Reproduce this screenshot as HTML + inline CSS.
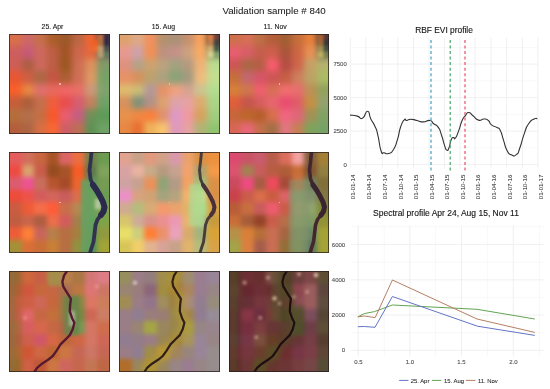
<!DOCTYPE html>
<html><head><meta charset="utf-8">
<style>
html,body{margin:0;padding:0;background:#fff;}
body{width:550px;height:389px;position:relative;overflow:hidden;font-family:"Liberation Sans",Arial,sans-serif;}
.t{position:absolute;white-space:nowrap;color:#1a1a1a;line-height:1;-webkit-text-stroke:0.12px #222;}
.tile{position:absolute;width:100.5px;height:100.5px;overflow:hidden;}
.tile .g{position:absolute;display:grid;}
.tile .g i{display:block;}
.tile .ov{position:absolute;left:0;top:0;}
.tile .dot{position:absolute;left:49.8px;top:49.6px;width:1.6px;height:1.6px;background:#f4c0b8;border-radius:50%;}
.tile .b{position:absolute;left:0;top:0;right:0;bottom:0;border:1px solid rgba(40,30,30,.75);box-sizing:border-box;}
svg.main{position:absolute;left:0;top:0;}
</style></head><body>
<div class="t" style="left:222.4px;top:6.4px;font-size:9.75px;-webkit-text-stroke:0.05px #222;">Validation sample # 840</div>
<div class="t" style="left:41.6px;top:24.1px;font-size:6.85px;">25. Apr</div>
<div class="t" style="left:151.8px;top:24.1px;font-size:6.85px;">15. Aug</div>
<div class="t" style="left:263.6px;top:24.1px;font-size:6.85px;">11. Nov</div>

<div class="tile" style="left:9.3px;top:33.7px"><div class="g" style="left:-12.562px;top:-12.562px;grid-template-columns:repeat(10,12.562px);grid-template-rows:repeat(10,12.562px);filter:blur(3.0px) contrast(1.06) saturate(1.02) brightness(1)"><i style="background:#d2704e"></i><i style="background:#d2704e"></i><i style="background:#c86a6a"></i><i style="background:#c07050"></i><i style="background:#a86030"></i><i style="background:#9a5a30"></i><i style="background:#b86848"></i><i style="background:#e86838"></i><i style="background:#6a4a50"></i><i style="background:#6a4a50"></i><i style="background:#d2704e"></i><i style="background:#d2704e"></i><i style="background:#c86a6a"></i><i style="background:#c07050"></i><i style="background:#a86030"></i><i style="background:#9a5a30"></i><i style="background:#b86848"></i><i style="background:#e86838"></i><i style="background:#6a4a50"></i><i style="background:#6a4a50"></i><i style="background:#c86060"></i><i style="background:#c86060"></i><i style="background:#c05c78"></i><i style="background:#c86a60"></i><i style="background:#b86048"></i><i style="background:#a0582c"></i><i style="background:#c86850"></i><i style="background:#e06a40"></i><i style="background:#787060"></i><i style="background:#787060"></i><i style="background:#c86058"></i><i style="background:#c86058"></i><i style="background:#a86048"></i><i style="background:#c86a60"></i><i style="background:#b86048"></i><i style="background:#9a5a28"></i><i style="background:#c87058"></i><i style="background:#d89060"></i><i style="background:#80986a"></i><i style="background:#80986a"></i><i style="background:#e05a38"></i><i style="background:#e05a38"></i><i style="background:#c86048"></i><i style="background:#a86a48"></i><i style="background:#c05848"></i><i style="background:#a86038"></i><i style="background:#c87058"></i><i style="background:#d89868"></i><i style="background:#78a068"></i><i style="background:#78a068"></i><i style="background:#f06030"></i><i style="background:#f06030"></i><i style="background:#e08848"></i><i style="background:#d87070"></i><i style="background:#e06a60"></i><i style="background:#e86868"></i><i style="background:#e07068"></i><i style="background:#c8987a"></i><i style="background:#80a070"></i><i style="background:#80a070"></i><i style="background:#c06040"></i><i style="background:#c06040"></i><i style="background:#a86040"></i><i style="background:#c07050"></i><i style="background:#e86040"></i><i style="background:#e05050"></i><i style="background:#d06070"></i><i style="background:#c08060"></i><i style="background:#70a068"></i><i style="background:#70a068"></i><i style="background:#b07040"></i><i style="background:#b07040"></i><i style="background:#b07050"></i><i style="background:#c07048"></i><i style="background:#f05a30"></i><i style="background:#e06070"></i><i style="background:#c06080"></i><i style="background:#70905a"></i><i style="background:#60985a"></i><i style="background:#60985a"></i><i style="background:#b06040"></i><i style="background:#b06040"></i><i style="background:#a86848"></i><i style="background:#d07048"></i><i style="background:#f06838"></i><i style="background:#c86068"></i><i style="background:#b87058"></i><i style="background:#609058"></i><i style="background:#70a068"></i><i style="background:#70a068"></i><i style="background:#b06040"></i><i style="background:#b06040"></i><i style="background:#a86848"></i><i style="background:#d07048"></i><i style="background:#f06838"></i><i style="background:#c86068"></i><i style="background:#b87058"></i><i style="background:#609058"></i><i style="background:#70a068"></i><i style="background:#70a068"></i></div><svg class="ov" style="filter:blur(1.6px)" width="100.5" height="100.5" viewBox="0 0 100.5 100.5"><rect x="94.59" y="0.00" width="5.91" height="5.91" fill="#302848"/><rect x="94.59" y="5.91" width="5.91" height="5.91" fill="#2c2844"/><rect x="94.59" y="11.82" width="5.91" height="5.91" fill="#4a5050"/><rect x="94.59" y="17.74" width="5.91" height="5.91" fill="#607860"/><rect x="88.68" y="0.00" width="5.91" height="5.91" fill="#c07040"/><rect x="88.68" y="5.91" width="5.91" height="5.91" fill="#b07040"/><rect x="88.68" y="11.82" width="5.91" height="5.91" fill="#c0a070"/><rect x="88.68" y="17.74" width="5.91" height="5.91" fill="#b8a070"/><rect x="82.76" y="5.91" width="5.91" height="5.91" fill="#f06020"/><rect x="82.76" y="11.82" width="5.91" height="5.91" fill="#f06a30"/></svg><i class="dot"></i><div class="b"></div></div>
<div class="tile" style="left:119.1px;top:33.7px"><div class="g" style="left:-12.562px;top:-12.562px;grid-template-columns:repeat(10,12.562px);grid-template-rows:repeat(10,12.562px);filter:blur(3.0px) contrast(1.06) saturate(1.02) brightness(1)"><i style="background:#d8a070"></i><i style="background:#d8a070"></i><i style="background:#d8a888"></i><i style="background:#e89060"></i><i style="background:#b09070"></i><i style="background:#a89078"></i><i style="background:#c09070"></i><i style="background:#f0a060"></i><i style="background:#604838"></i><i style="background:#604838"></i><i style="background:#d8a070"></i><i style="background:#d8a070"></i><i style="background:#d8a888"></i><i style="background:#e89060"></i><i style="background:#b09070"></i><i style="background:#a89078"></i><i style="background:#c09070"></i><i style="background:#f0a060"></i><i style="background:#604838"></i><i style="background:#604838"></i><i style="background:#e09890"></i><i style="background:#e09890"></i><i style="background:#c8a0a8"></i><i style="background:#e89058"></i><i style="background:#b89080"></i><i style="background:#c09088"></i><i style="background:#c8a080"></i><i style="background:#f0a868"></i><i style="background:#90a070"></i><i style="background:#90a070"></i><i style="background:#d89080"></i><i style="background:#d89080"></i><i style="background:#b0a088"></i><i style="background:#c8a070"></i><i style="background:#b8a080"></i><i style="background:#a0a080"></i><i style="background:#b09880"></i><i style="background:#e8b078"></i><i style="background:#b8d890"></i><i style="background:#b8d890"></i><i style="background:#e09068"></i><i style="background:#e09068"></i><i style="background:#d09060"></i><i style="background:#b8a070"></i><i style="background:#a8a080"></i><i style="background:#8aa078"></i><i style="background:#a09880"></i><i style="background:#e8b880"></i><i style="background:#c0d890"></i><i style="background:#c0d890"></i><i style="background:#d8b870"></i><i style="background:#d8b870"></i><i style="background:#c8b878"></i><i style="background:#b09898"></i><i style="background:#e09068"></i><i style="background:#e8a080"></i><i style="background:#d0a090"></i><i style="background:#c8c090"></i><i style="background:#b0d890"></i><i style="background:#b0d890"></i><i style="background:#d09060"></i><i style="background:#d09060"></i><i style="background:#80907a"></i><i style="background:#b09088"></i><i style="background:#d8a070"></i><i style="background:#d8a0a8"></i><i style="background:#e0a0a0"></i><i style="background:#d8a870"></i><i style="background:#a8d088"></i><i style="background:#a8d088"></i><i style="background:#e09050"></i><i style="background:#e09050"></i><i style="background:#e88848"></i><i style="background:#f08040"></i><i style="background:#d89070"></i><i style="background:#d898c0"></i><i style="background:#e898a0"></i><i style="background:#d0a060"></i><i style="background:#a0c880"></i><i style="background:#a0c880"></i><i style="background:#e08848"></i><i style="background:#e08848"></i><i style="background:#e07038"></i><i style="background:#e8b060"></i><i style="background:#f0c070"></i><i style="background:#d898b8"></i><i style="background:#e0a0a0"></i><i style="background:#b0b078"></i><i style="background:#90c070"></i><i style="background:#90c070"></i><i style="background:#e08848"></i><i style="background:#e08848"></i><i style="background:#e07038"></i><i style="background:#e8b060"></i><i style="background:#f0c070"></i><i style="background:#d898b8"></i><i style="background:#e0a0a0"></i><i style="background:#b0b078"></i><i style="background:#90c070"></i><i style="background:#90c070"></i></div><svg class="ov" style="filter:blur(1.6px)" width="100.5" height="100.5" viewBox="0 0 100.5 100.5"><rect x="94.59" y="0.00" width="5.91" height="5.91" fill="#704040"/><rect x="94.59" y="5.91" width="5.91" height="5.91" fill="#404040"/><rect x="94.59" y="11.82" width="5.91" height="5.91" fill="#405848"/><rect x="94.59" y="17.74" width="5.91" height="5.91" fill="#80a070"/><rect x="88.68" y="0.00" width="5.91" height="5.91" fill="#e08040"/><rect x="88.68" y="5.91" width="5.91" height="5.91" fill="#c08050"/><rect x="88.68" y="11.82" width="5.91" height="5.91" fill="#d0b070"/><rect x="88.68" y="17.74" width="5.91" height="5.91" fill="#d8d090"/></svg><i class="dot"></i><div class="b"></div></div>
<div class="tile" style="left:228.8px;top:33.7px"><div class="g" style="left:-12.562px;top:-12.562px;grid-template-columns:repeat(10,12.562px);grid-template-rows:repeat(10,12.562px);filter:blur(3.0px) contrast(1.06) saturate(1.02) brightness(1)"><i style="background:#c87050"></i><i style="background:#c87050"></i><i style="background:#d07058"></i><i style="background:#b87048"></i><i style="background:#b06040"></i><i style="background:#a06038"></i><i style="background:#c07040"></i><i style="background:#e08040"></i><i style="background:#504840"></i><i style="background:#504840"></i><i style="background:#c87050"></i><i style="background:#c87050"></i><i style="background:#d07058"></i><i style="background:#b87048"></i><i style="background:#b06040"></i><i style="background:#a06038"></i><i style="background:#c07040"></i><i style="background:#e08040"></i><i style="background:#504840"></i><i style="background:#504840"></i><i style="background:#e06070"></i><i style="background:#e06070"></i><i style="background:#d06068"></i><i style="background:#c06050"></i><i style="background:#c86050"></i><i style="background:#a85840"></i><i style="background:#c86848"></i><i style="background:#e09058"></i><i style="background:#808060"></i><i style="background:#808060"></i><i style="background:#c85858"></i><i style="background:#c85858"></i><i style="background:#a86848"></i><i style="background:#b06048"></i><i style="background:#f06070"></i><i style="background:#b05048"></i><i style="background:#c86850"></i><i style="background:#c0a068"></i><i style="background:#b0b070"></i><i style="background:#b0b070"></i><i style="background:#c07040"></i><i style="background:#c07040"></i><i style="background:#c06870"></i><i style="background:#d05868"></i><i style="background:#c85858"></i><i style="background:#c06048"></i><i style="background:#c88060"></i><i style="background:#b8a068"></i><i style="background:#a8b868"></i><i style="background:#a8b868"></i><i style="background:#d08040"></i><i style="background:#d08040"></i><i style="background:#c87850"></i><i style="background:#e86070"></i><i style="background:#d07058"></i><i style="background:#e87070"></i><i style="background:#e07070"></i><i style="background:#b89058"></i><i style="background:#90a060"></i><i style="background:#90a060"></i><i style="background:#d86040"></i><i style="background:#d86040"></i><i style="background:#c05850"></i><i style="background:#d06060"></i><i style="background:#e06870"></i><i style="background:#e05070"></i><i style="background:#d86068"></i><i style="background:#c09048"></i><i style="background:#90a070"></i><i style="background:#90a070"></i><i style="background:#c06840"></i><i style="background:#c06840"></i><i style="background:#b86830"></i><i style="background:#b06030"></i><i style="background:#d07050"></i><i style="background:#e86880"></i><i style="background:#d86878"></i><i style="background:#a09058"></i><i style="background:#80a068"></i><i style="background:#80a068"></i><i style="background:#d06858"></i><i style="background:#d06858"></i><i style="background:#e06878"></i><i style="background:#c07050"></i><i style="background:#a07048"></i><i style="background:#d87880"></i><i style="background:#c08058"></i><i style="background:#80a060"></i><i style="background:#78a068"></i><i style="background:#78a068"></i><i style="background:#d06858"></i><i style="background:#d06858"></i><i style="background:#e06878"></i><i style="background:#c07050"></i><i style="background:#a07048"></i><i style="background:#d87880"></i><i style="background:#c08058"></i><i style="background:#80a060"></i><i style="background:#78a068"></i><i style="background:#78a068"></i></div><svg class="ov" style="filter:blur(1.6px)" width="100.5" height="100.5" viewBox="0 0 100.5 100.5"><rect x="94.59" y="0.00" width="5.91" height="5.91" fill="#503838"/><rect x="94.59" y="5.91" width="5.91" height="5.91" fill="#303838"/><rect x="94.59" y="11.82" width="5.91" height="5.91" fill="#405040"/><rect x="94.59" y="17.74" width="5.91" height="5.91" fill="#708050"/><rect x="88.68" y="0.00" width="5.91" height="5.91" fill="#b06030"/><rect x="88.68" y="5.91" width="5.91" height="5.91" fill="#a06838"/><rect x="88.68" y="11.82" width="5.91" height="5.91" fill="#a09050"/><rect x="88.68" y="17.74" width="5.91" height="5.91" fill="#c0b060"/></svg><i class="dot"></i><div class="b"></div></div>
<div class="tile" style="left:9.3px;top:152.2px"><div class="g" style="left:-12.562px;top:-12.562px;grid-template-columns:repeat(10,12.562px);grid-template-rows:repeat(10,12.562px);filter:blur(2.6px) contrast(1.08) saturate(1.05) brightness(1)"><i style="background:#d86060"></i><i style="background:#d86060"></i><i style="background:#c87060"></i><i style="background:#c06848"></i><i style="background:#a05830"></i><i style="background:#d06868"></i><i style="background:#e07048"></i><i style="background:#708050"></i><i style="background:#709858"></i><i style="background:#709858"></i><i style="background:#d86060"></i><i style="background:#d86060"></i><i style="background:#c87060"></i><i style="background:#c06848"></i><i style="background:#a05830"></i><i style="background:#d06868"></i><i style="background:#e07048"></i><i style="background:#708050"></i><i style="background:#709858"></i><i style="background:#709858"></i><i style="background:#e05048"></i><i style="background:#e05048"></i><i style="background:#d0a070"></i><i style="background:#c06050"></i><i style="background:#905028"></i><i style="background:#a05830"></i><i style="background:#e86030"></i><i style="background:#607850"></i><i style="background:#80a060"></i><i style="background:#80a060"></i><i style="background:#d06070"></i><i style="background:#d06070"></i><i style="background:#e05890"></i><i style="background:#c07060"></i><i style="background:#b05838"></i><i style="background:#a05030"></i><i style="background:#e06838"></i><i style="background:#609060"></i><i style="background:#789858"></i><i style="background:#789858"></i><i style="background:#e05040"></i><i style="background:#e05040"></i><i style="background:#e05850"></i><i style="background:#c86060"></i><i style="background:#c86860"></i><i style="background:#c06060"></i><i style="background:#d07050"></i><i style="background:#70a060"></i><i style="background:#709858"></i><i style="background:#709858"></i><i style="background:#c06048"></i><i style="background:#c06048"></i><i style="background:#e06040"></i><i style="background:#e87050"></i><i style="background:#f06040"></i><i style="background:#c07050"></i><i style="background:#b08858"></i><i style="background:#70a060"></i><i style="background:#80a058"></i><i style="background:#80a058"></i><i style="background:#b86048"></i><i style="background:#b86048"></i><i style="background:#c06850"></i><i style="background:#a86048"></i><i style="background:#e07050"></i><i style="background:#c86060"></i><i style="background:#a08050"></i><i style="background:#60a060"></i><i style="background:#80a050"></i><i style="background:#80a050"></i><i style="background:#e06040"></i><i style="background:#e06040"></i><i style="background:#f08040"></i><i style="background:#c06860"></i><i style="background:#b08050"></i><i style="background:#b07048"></i><i style="background:#a08048"></i><i style="background:#609060"></i><i style="background:#909848"></i><i style="background:#909848"></i><i style="background:#a09040"></i><i style="background:#a09040"></i><i style="background:#d07040"></i><i style="background:#c07040"></i><i style="background:#c08040"></i><i style="background:#b07048"></i><i style="background:#909048"></i><i style="background:#509060"></i><i style="background:#a0a040"></i><i style="background:#a0a040"></i><i style="background:#a09040"></i><i style="background:#a09040"></i><i style="background:#d07040"></i><i style="background:#c07040"></i><i style="background:#c08040"></i><i style="background:#b07048"></i><i style="background:#909048"></i><i style="background:#509060"></i><i style="background:#a0a040"></i><i style="background:#a0a040"></i></div><svg class="ov" style="filter:blur(1.6px)" width="100.5" height="100.5" viewBox="0 0 100.5 100.5"><rect x="72" y="28" width="12" height="73" fill="#68a060" opacity="0.85"/><rect x="86" y="47" width="6" height="10" fill="#c0d0b0" opacity="0.8"/></svg><svg class="ov" style="filter:blur(0.7px)" width="100.5" height="100.5" viewBox="0 0 100.5 100.5"><path d="M82.5,-3.0 L82.5,0.0 L81.5,10.0 L80.5,18.0 L81.5,27.0 L84.0,33.0 L87.5,38.0 L91.0,44.0 L94.0,50.0 L95.5,55.0 L94.5,59.5 L92.0,63.0 L88.5,67.5 L86.5,73.0 L85.5,82.0 L84.5,90.0 L82.5,96.0 L81.0,101.0 L80.5,104.0" stroke="#32324e" stroke-width="3.8" fill="none" stroke-linejoin="round"/><path d="M84.0,33.0 L87.5,38.0 L91.0,44.0 L94.0,50.0 L95.5,55.0 L94.5,59.5 L92.0,63.0" stroke="#2c2a4c" stroke-width="6" fill="none" stroke-linejoin="round" stroke-linecap="round"/></svg><i class="dot"></i><div class="b"></div></div>
<div class="tile" style="left:119.1px;top:152.2px"><div class="g" style="left:-12.562px;top:-12.562px;grid-template-columns:repeat(10,12.562px);grid-template-rows:repeat(10,12.562px);filter:blur(2.6px) contrast(1.08) saturate(1.05) brightness(1)"><i style="background:#d8a090"></i><i style="background:#d8a090"></i><i style="background:#c0a088"></i><i style="background:#d89880"></i><i style="background:#c8a088"></i><i style="background:#d098a8"></i><i style="background:#e0a070"></i><i style="background:#d09050"></i><i style="background:#e09048"></i><i style="background:#e09048"></i><i style="background:#d8a090"></i><i style="background:#d8a090"></i><i style="background:#c0a088"></i><i style="background:#d89880"></i><i style="background:#c8a088"></i><i style="background:#d098a8"></i><i style="background:#e0a070"></i><i style="background:#d09050"></i><i style="background:#e09048"></i><i style="background:#e09048"></i><i style="background:#d0a0a0"></i><i style="background:#d0a0a0"></i><i style="background:#e0b0a0"></i><i style="background:#c0a888"></i><i style="background:#b09880"></i><i style="background:#c0a090"></i><i style="background:#e8a070"></i><i style="background:#a8a070"></i><i style="background:#e89850"></i><i style="background:#e89850"></i><i style="background:#c8a0a0"></i><i style="background:#c8a0a0"></i><i style="background:#c0a090"></i><i style="background:#e09060"></i><i style="background:#90a078"></i><i style="background:#b09888"></i><i style="background:#e8a068"></i><i style="background:#a0b880"></i><i style="background:#d09050"></i><i style="background:#d09050"></i><i style="background:#e090c0"></i><i style="background:#e090c0"></i><i style="background:#d0a080"></i><i style="background:#c8a078"></i><i style="background:#a0a080"></i><i style="background:#b0a080"></i><i style="background:#e8b070"></i><i style="background:#c0d890"></i><i style="background:#d09050"></i><i style="background:#d09050"></i><i style="background:#c8a890"></i><i style="background:#c8a890"></i><i style="background:#b0b880"></i><i style="background:#d0a878"></i><i style="background:#e89870"></i><i style="background:#e0a070"></i><i style="background:#d8b070"></i><i style="background:#a8d890"></i><i style="background:#d0a050"></i><i style="background:#d0a050"></i><i style="background:#d0c070"></i><i style="background:#d0c070"></i><i style="background:#c8a898"></i><i style="background:#d09088"></i><i style="background:#e09090"></i><i style="background:#e098b0"></i><i style="background:#e0b070"></i><i style="background:#a8c088"></i><i style="background:#c09848"></i><i style="background:#c09848"></i><i style="background:#e0d870"></i><i style="background:#e0d870"></i><i style="background:#c8c880"></i><i style="background:#f08040"></i><i style="background:#e09070"></i><i style="background:#e0a0b8"></i><i style="background:#d0a870"></i><i style="background:#a0b080"></i><i style="background:#d0a040"></i><i style="background:#d0a040"></i><i style="background:#d0c060"></i><i style="background:#d0c060"></i><i style="background:#e8c870"></i><i style="background:#d8b090"></i><i style="background:#d0a098"></i><i style="background:#c0a088"></i><i style="background:#d8b070"></i><i style="background:#b0b880"></i><i style="background:#d0a050"></i><i style="background:#d0a050"></i><i style="background:#d0c060"></i><i style="background:#d0c060"></i><i style="background:#e8c870"></i><i style="background:#d8b090"></i><i style="background:#d0a098"></i><i style="background:#c0a088"></i><i style="background:#d8b070"></i><i style="background:#b0b880"></i><i style="background:#d0a050"></i><i style="background:#d0a050"></i></div><svg class="ov" style="filter:blur(1.6px)" width="100.5" height="100.5" viewBox="0 0 100.5 100.5"><rect x="70" y="32" width="14" height="42" fill="#b0d890" opacity="0.75"/></svg><svg class="ov" style="filter:blur(0.7px)" width="100.5" height="100.5" viewBox="0 0 100.5 100.5"><path d="M82.5,-3.0 L82.5,0.0 L81.5,10.0 L80.5,18.0 L81.5,27.0 L84.0,33.0 L87.5,38.0 L91.0,44.0 L94.0,50.0 L95.5,55.0 L94.5,59.5 L92.0,63.0 L88.5,67.5 L86.5,73.0 L85.5,82.0 L84.5,90.0 L82.5,96.0 L81.0,101.0 L80.5,104.0" stroke="#4a3c38" stroke-width="2.9" fill="none" stroke-linejoin="round"/><path d="M84.0,33.0 L87.5,38.0 L91.0,44.0 L94.0,50.0 L95.5,55.0 L94.5,59.5 L92.0,63.0" stroke="#4a3038" stroke-width="4" fill="none" stroke-linejoin="round" stroke-linecap="round"/></svg><i class="dot"></i><div class="b"></div></div>
<div class="tile" style="left:228.8px;top:152.2px"><div class="g" style="left:-12.562px;top:-12.562px;grid-template-columns:repeat(10,12.562px);grid-template-rows:repeat(10,12.562px);filter:blur(2.6px) contrast(1.08) saturate(1.05) brightness(1)"><i style="background:#d05070"></i><i style="background:#d05070"></i><i style="background:#c05868"></i><i style="background:#c06070"></i><i style="background:#b06050"></i><i style="background:#d07060"></i><i style="background:#e8a0a0"></i><i style="background:#806040"></i><i style="background:#a08040"></i><i style="background:#a08040"></i><i style="background:#d05070"></i><i style="background:#d05070"></i><i style="background:#c05868"></i><i style="background:#c06070"></i><i style="background:#b06050"></i><i style="background:#d07060"></i><i style="background:#e8a0a0"></i><i style="background:#806040"></i><i style="background:#a08040"></i><i style="background:#a08040"></i><i style="background:#d05870"></i><i style="background:#d05870"></i><i style="background:#a08058"></i><i style="background:#c06060"></i><i style="background:#b06048"></i><i style="background:#a86040"></i><i style="background:#c07040"></i><i style="background:#805838"></i><i style="background:#908048"></i><i style="background:#908048"></i><i style="background:#c05060"></i><i style="background:#c05060"></i><i style="background:#e05080"></i><i style="background:#a06048"></i><i style="background:#e05060"></i><i style="background:#a05040"></i><i style="background:#c07850"></i><i style="background:#708060"></i><i style="background:#807040"></i><i style="background:#807040"></i><i style="background:#c04850"></i><i style="background:#c04850"></i><i style="background:#c06050"></i><i style="background:#d07050"></i><i style="background:#c06048"></i><i style="background:#d06868"></i><i style="background:#90a070"></i><i style="background:#809070"></i><i style="background:#807848"></i><i style="background:#807848"></i><i style="background:#b06040"></i><i style="background:#b06040"></i><i style="background:#c07048"></i><i style="background:#c06060"></i><i style="background:#e06070"></i><i style="background:#c06050"></i><i style="background:#a0a070"></i><i style="background:#90a070"></i><i style="background:#808840"></i><i style="background:#808840"></i><i style="background:#c07040"></i><i style="background:#c07040"></i><i style="background:#a06040"></i><i style="background:#904830"></i><i style="background:#c06050"></i><i style="background:#b07050"></i><i style="background:#90a068"></i><i style="background:#80986a"></i><i style="background:#909040"></i><i style="background:#909040"></i><i style="background:#b09050"></i><i style="background:#b09050"></i><i style="background:#d08040"></i><i style="background:#b07040"></i><i style="background:#c07058"></i><i style="background:#a06848"></i><i style="background:#809060"></i><i style="background:#708868"></i><i style="background:#a0a040"></i><i style="background:#a0a040"></i><i style="background:#a0a050"></i><i style="background:#a0a050"></i><i style="background:#d08048"></i><i style="background:#a06050"></i><i style="background:#c07058"></i><i style="background:#907040"></i><i style="background:#809058"></i><i style="background:#607860"></i><i style="background:#a0a040"></i><i style="background:#a0a040"></i><i style="background:#a0a050"></i><i style="background:#a0a050"></i><i style="background:#d08048"></i><i style="background:#a06050"></i><i style="background:#c07058"></i><i style="background:#907040"></i><i style="background:#809058"></i><i style="background:#607860"></i><i style="background:#a0a040"></i><i style="background:#a0a040"></i></div><svg class="ov" style="filter:blur(1.6px)" width="100.5" height="100.5" viewBox="0 0 100.5 100.5"><rect x="60" y="28" width="20" height="73" fill="#849470" opacity="0.55"/></svg><svg class="ov" style="filter:blur(0.7px)" width="100.5" height="100.5" viewBox="0 0 100.5 100.5"><path d="M82.5,-3.0 L82.5,0.0 L81.5,10.0 L80.5,18.0 L81.5,27.0 L84.0,33.0 L87.5,38.0 L91.0,44.0 L94.0,50.0 L95.5,55.0 L94.5,59.5 L92.0,63.0 L88.5,67.5 L86.5,73.0 L85.5,82.0 L84.5,90.0 L82.5,96.0 L81.0,101.0 L80.5,104.0" stroke="#42282e" stroke-width="3.6" fill="none" stroke-linejoin="round"/><path d="M84.0,33.0 L87.5,38.0 L91.0,44.0 L94.0,50.0 L95.5,55.0 L94.5,59.5 L92.0,63.0" stroke="#3a2430" stroke-width="5" fill="none" stroke-linejoin="round" stroke-linecap="round"/></svg><i class="dot"></i><div class="b"></div></div>
<div class="tile" style="left:9.3px;top:271.2px"><div class="g" style="left:-12.562px;top:-12.562px;grid-template-columns:repeat(10,12.562px);grid-template-rows:repeat(10,12.562px);filter:blur(2.2px) contrast(1.0) saturate(1.15) brightness(0.94)"><i style="background:#a07040"></i><i style="background:#a07040"></i><i style="background:#d07048"></i><i style="background:#c86850"></i><i style="background:#b89050"></i><i style="background:#c08858"></i><i style="background:#b08050"></i><i style="background:#d88080"></i><i style="background:#e08890"></i><i style="background:#e08890"></i><i style="background:#a07040"></i><i style="background:#a07040"></i><i style="background:#d07048"></i><i style="background:#c86850"></i><i style="background:#b89050"></i><i style="background:#c08858"></i><i style="background:#b08050"></i><i style="background:#d88080"></i><i style="background:#e08890"></i><i style="background:#e08890"></i><i style="background:#b06840"></i><i style="background:#b06840"></i><i style="background:#d06048"></i><i style="background:#c87048"></i><i style="background:#c87050"></i><i style="background:#b07858"></i><i style="background:#c08050"></i><i style="background:#e08080"></i><i style="background:#d08070"></i><i style="background:#d08070"></i><i style="background:#c06848"></i><i style="background:#c06848"></i><i style="background:#d06850"></i><i style="background:#d07060"></i><i style="background:#c87048"></i><i style="background:#a08050"></i><i style="background:#909050"></i><i style="background:#e08070"></i><i style="background:#d08868"></i><i style="background:#d08868"></i><i style="background:#c06850"></i><i style="background:#c06850"></i><i style="background:#e07070"></i><i style="background:#c87050"></i><i style="background:#c87848"></i><i style="background:#a08050"></i><i style="background:#809050"></i><i style="background:#d07060"></i><i style="background:#d08870"></i><i style="background:#d08870"></i><i style="background:#b07048"></i><i style="background:#b07048"></i><i style="background:#d86868"></i><i style="background:#d87058"></i><i style="background:#c87050"></i><i style="background:#b07050"></i><i style="background:#80a060"></i><i style="background:#d88070"></i><i style="background:#d07858"></i><i style="background:#d07858"></i><i style="background:#b06848"></i><i style="background:#b06848"></i><i style="background:#d06858"></i><i style="background:#d06070"></i><i style="background:#d87050"></i><i style="background:#c07048"></i><i style="background:#d07050"></i><i style="background:#d88070"></i><i style="background:#d07060"></i><i style="background:#d07060"></i><i style="background:#b07040"></i><i style="background:#b07040"></i><i style="background:#d06040"></i><i style="background:#d07050"></i><i style="background:#c07040"></i><i style="background:#d08050"></i><i style="background:#c87060"></i><i style="background:#d08070"></i><i style="background:#c87060"></i><i style="background:#c87060"></i><i style="background:#a07038"></i><i style="background:#a07038"></i><i style="background:#d06850"></i><i style="background:#c06040"></i><i style="background:#d08050"></i><i style="background:#d07068"></i><i style="background:#c87058"></i><i style="background:#c88060"></i><i style="background:#c07050"></i><i style="background:#c07050"></i><i style="background:#a07038"></i><i style="background:#a07038"></i><i style="background:#d06850"></i><i style="background:#c06040"></i><i style="background:#d08050"></i><i style="background:#d07068"></i><i style="background:#c87058"></i><i style="background:#c88060"></i><i style="background:#c07050"></i><i style="background:#c07050"></i></div><svg class="ov" style="filter:blur(1.6px)" width="100.5" height="100.5" viewBox="0 0 100.5 100.5"><circle cx="88" cy="15.6" r="1.8" fill="#f0a8b0" opacity="0.8"/><circle cx="16" cy="46.8" r="1.6" fill="#f0b0a8" opacity="0.8"/><rect x="1" y="0" width="5" height="101" fill="#8a7040" opacity="0.6"/><rect x="55.5" y="25" width="14.5" height="39" fill="#68844a" opacity="0.9"/><rect x="60" y="40" width="6" height="15" fill="#b0b8a0" opacity="0.8"/><rect x="39.5" y="0" width="14.5" height="15" fill="#a09050" opacity="0.7"/></svg><svg class="ov" style="filter:blur(0.7px)" width="100.5" height="100.5" viewBox="0 0 100.5 100.5"><path d="M58.6,-3.0 L58.0,0.0 L55.0,4.6 L53.4,10.8 L54.2,15.4 L58.0,21.6 L61.9,27.8 L61.1,34.0 L60.8,40.5 L63.1,47.2 L65.4,51.8 L63.8,58.0 L60.8,64.1 L56.1,68.8 L51.5,73.4 L47.6,79.6 L43.8,85.0 L39.1,88.8 L33.0,92.7 L28.3,96.6 L25.3,101.0 L24.5,104.0" stroke="#561a30" stroke-width="2.4" fill="none" stroke-linejoin="round"/></svg><div class="b"></div></div>
<div class="tile" style="left:119.1px;top:271.2px"><div class="g" style="left:-12.562px;top:-12.562px;grid-template-columns:repeat(10,12.562px);grid-template-rows:repeat(10,12.562px);filter:blur(2.2px) contrast(1.0) saturate(1.3) brightness(0.93)"><i style="background:#a09870"></i><i style="background:#a09870"></i><i style="background:#a08890"></i><i style="background:#9a8888"></i><i style="background:#a89860"></i><i style="background:#a89050"></i><i style="background:#a89880"></i><i style="background:#a08898"></i><i style="background:#a090a0"></i><i style="background:#a090a0"></i><i style="background:#a09870"></i><i style="background:#a09870"></i><i style="background:#a08890"></i><i style="background:#9a8888"></i><i style="background:#a89860"></i><i style="background:#a89050"></i><i style="background:#a89880"></i><i style="background:#a08898"></i><i style="background:#a090a0"></i><i style="background:#a090a0"></i><i style="background:#a09080"></i><i style="background:#a09080"></i><i style="background:#a08888"></i><i style="background:#907080"></i><i style="background:#a89858"></i><i style="background:#a08048"></i><i style="background:#b09070"></i><i style="background:#a08898"></i><i style="background:#a09090"></i><i style="background:#a09090"></i><i style="background:#a89868"></i><i style="background:#a89868"></i><i style="background:#a08890"></i><i style="background:#988090"></i><i style="background:#a89870"></i><i style="background:#a08858"></i><i style="background:#b09888"></i><i style="background:#9a8898"></i><i style="background:#a09888"></i><i style="background:#a09888"></i><i style="background:#a08890"></i><i style="background:#a08890"></i><i style="background:#988898"></i><i style="background:#a08888"></i><i style="background:#a08880"></i><i style="background:#a09060"></i><i style="background:#a89060"></i><i style="background:#988898"></i><i style="background:#a098a0"></i><i style="background:#a098a0"></i><i style="background:#a08890"></i><i style="background:#a08890"></i><i style="background:#a09080"></i><i style="background:#b0b060"></i><i style="background:#a09070"></i><i style="background:#a09060"></i><i style="background:#b0a860"></i><i style="background:#a09090"></i><i style="background:#a09098"></i><i style="background:#a09098"></i><i style="background:#988898"></i><i style="background:#988898"></i><i style="background:#9a8890"></i><i style="background:#a08890"></i><i style="background:#a09068"></i><i style="background:#a08858"></i><i style="background:#b0a070"></i><i style="background:#a090a0"></i><i style="background:#a09090"></i><i style="background:#a09090"></i><i style="background:#a08890"></i><i style="background:#a08890"></i><i style="background:#988898"></i><i style="background:#a89860"></i><i style="background:#c0a050"></i><i style="background:#a89070"></i><i style="background:#a09088"></i><i style="background:#a090a0"></i><i style="background:#a09898"></i><i style="background:#a09898"></i><i style="background:#b07840"></i><i style="background:#b07840"></i><i style="background:#a09070"></i><i style="background:#b09850"></i><i style="background:#a09070"></i><i style="background:#a09090"></i><i style="background:#a08898"></i><i style="background:#a09090"></i><i style="background:#a09898"></i><i style="background:#a09898"></i><i style="background:#b07840"></i><i style="background:#b07840"></i><i style="background:#a09070"></i><i style="background:#b09850"></i><i style="background:#a09070"></i><i style="background:#a09090"></i><i style="background:#a08898"></i><i style="background:#a09090"></i><i style="background:#a09898"></i><i style="background:#a09898"></i></div><svg class="ov" style="filter:blur(2.5px)" width="100.5" height="100.5" viewBox="0 0 100.5 100.5"><path d="M58.6,-3.0 L58.0,0.0 L55.0,4.6 L53.4,10.8 L54.2,15.4 L58.0,21.6 L61.9,27.8 L61.1,34.0 L60.8,40.5 L63.1,47.2 L65.4,51.8 L63.8,58.0 L60.8,64.1 L56.1,68.8 L51.5,73.4 L47.6,79.6 L43.8,85.0 L39.1,88.8 L33.0,92.7 L28.3,96.6 L25.3,101.0 L24.5,104.0" stroke="#b09838" stroke-width="12" fill="none" opacity="0.55"/></svg><svg class="ov" style="filter:blur(1.6px)" width="100.5" height="100.5" viewBox="0 0 100.5 100.5"><circle cx="16" cy="11.7" r="1.8" fill="#f0ece0" opacity="1"/></svg><svg class="ov" style="filter:blur(0.7px)" width="100.5" height="100.5" viewBox="0 0 100.5 100.5"><path d="M58.6,-3.0 L58.0,0.0 L55.0,4.6 L53.4,10.8 L54.2,15.4 L58.0,21.6 L61.9,27.8 L61.1,34.0 L60.8,40.5 L63.1,47.2 L65.4,51.8 L63.8,58.0 L60.8,64.1 L56.1,68.8 L51.5,73.4 L47.6,79.6 L43.8,85.0 L39.1,88.8 L33.0,92.7 L28.3,96.6 L25.3,101.0 L24.5,104.0" stroke="#302018" stroke-width="2.2" fill="none" stroke-linejoin="round"/></svg><div class="b"></div></div>
<div class="tile" style="left:228.8px;top:271.2px"><div class="g" style="left:-12.562px;top:-12.562px;grid-template-columns:repeat(10,12.562px);grid-template-rows:repeat(10,12.562px);filter:blur(2.2px) contrast(1.0) saturate(1.0) brightness(0.97)"><i style="background:#5a3828"></i><i style="background:#5a3828"></i><i style="background:#703038"></i><i style="background:#6a3030"></i><i style="background:#805048"></i><i style="background:#504028"></i><i style="background:#704040"></i><i style="background:#804848"></i><i style="background:#605038"></i><i style="background:#605038"></i><i style="background:#5a3828"></i><i style="background:#5a3828"></i><i style="background:#703038"></i><i style="background:#6a3030"></i><i style="background:#805048"></i><i style="background:#504028"></i><i style="background:#704040"></i><i style="background:#804848"></i><i style="background:#605038"></i><i style="background:#605038"></i><i style="background:#604030"></i><i style="background:#604030"></i><i style="background:#6a2830"></i><i style="background:#703038"></i><i style="background:#6a3030"></i><i style="background:#504828"></i><i style="background:#904850"></i><i style="background:#a06060"></i><i style="background:#604840"></i><i style="background:#604840"></i><i style="background:#603830"></i><i style="background:#603830"></i><i style="background:#6a3038"></i><i style="background:#7a3840"></i><i style="background:#704038"></i><i style="background:#604030"></i><i style="background:#905058"></i><i style="background:#a06060"></i><i style="background:#605040"></i><i style="background:#605040"></i><i style="background:#603030"></i><i style="background:#603030"></i><i style="background:#8a3848"></i><i style="background:#703040"></i><i style="background:#7a4038"></i><i style="background:#504828"></i><i style="background:#604830"></i><i style="background:#805060"></i><i style="background:#584838"></i><i style="background:#584838"></i><i style="background:#603030"></i><i style="background:#603030"></i><i style="background:#7a3040"></i><i style="background:#804040"></i><i style="background:#6a3838"></i><i style="background:#604030"></i><i style="background:#504828"></i><i style="background:#704048"></i><i style="background:#605038"></i><i style="background:#605038"></i><i style="background:#603838"></i><i style="background:#603838"></i><i style="background:#7a3848"></i><i style="background:#805040"></i><i style="background:#6a4028"></i><i style="background:#603830"></i><i style="background:#6a3838"></i><i style="background:#7a4048"></i><i style="background:#584030"></i><i style="background:#584030"></i><i style="background:#6a3030"></i><i style="background:#6a3030"></i><i style="background:#7a3840"></i><i style="background:#704030"></i><i style="background:#605028"></i><i style="background:#703030"></i><i style="background:#7a3848"></i><i style="background:#804048"></i><i style="background:#604838"></i><i style="background:#604838"></i><i style="background:#603028"></i><i style="background:#603028"></i><i style="background:#703838"></i><i style="background:#605028"></i><i style="background:#6a3830"></i><i style="background:#703838"></i><i style="background:#7a4040"></i><i style="background:#7a4848"></i><i style="background:#585038"></i><i style="background:#585038"></i><i style="background:#603028"></i><i style="background:#603028"></i><i style="background:#703838"></i><i style="background:#605028"></i><i style="background:#6a3830"></i><i style="background:#703838"></i><i style="background:#7a4040"></i><i style="background:#7a4848"></i><i style="background:#585038"></i><i style="background:#585038"></i></div><svg class="ov" style="filter:blur(2.5px)" width="100.5" height="100.5" viewBox="0 0 100.5 100.5"><path d="M58.6,-3.0 L58.0,0.0 L55.0,4.6 L53.4,10.8 L54.2,15.4 L58.0,21.6 L61.9,27.8 L61.1,34.0 L60.8,40.5 L63.1,47.2 L65.4,51.8 L63.8,58.0 L60.8,64.1 L56.1,68.8 L51.5,73.4 L47.6,79.6 L43.8,85.0 L39.1,88.8 L33.0,92.7 L28.3,96.6 L25.3,101.0 L24.5,104.0" stroke="#5a4a28" stroke-width="10" fill="none" opacity="0.5"/></svg><svg class="ov" style="filter:blur(1.6px)" width="100.5" height="100.5" viewBox="0 0 100.5 100.5"><rect x="43" y="0" width="9" height="50" fill="#5a5430" opacity="0.55"/><rect x="62" y="34" width="13" height="31" fill="#505430" opacity="0.55"/><rect x="0" y="0" width="8" height="101" fill="#5a4a30" opacity="0.5"/><circle cx="15.6" cy="11.7" r="1.6" fill="#e0c0a0" opacity="1"/><circle cx="39" cy="6.5" r="1.6" fill="#e0c0a0" opacity="1"/><circle cx="45.5" cy="27.3" r="1.9" fill="#f0d8b8" opacity="1"/><circle cx="50.6" cy="32.5" r="1.4" fill="#e0c0a0" opacity="1"/><circle cx="70" cy="3.1" r="1.7" fill="#f0d0b0" opacity="1"/><circle cx="87" cy="3.9" r="2.0" fill="#f8e0c0" opacity="1"/><circle cx="31.2" cy="46.8" r="1.5" fill="#e0c0a0" opacity="1"/><circle cx="27.3" cy="66.2" r="1.5" fill="#d8b8a0" opacity="1"/><circle cx="65" cy="26" r="1.4" fill="#d8b8a0" opacity="1"/><circle cx="78" cy="20.8" r="1.6" fill="#d8a8a0" opacity="1"/></svg><svg class="ov" style="filter:blur(0.7px)" width="100.5" height="100.5" viewBox="0 0 100.5 100.5"><path d="M58.6,-3.0 L58.0,0.0 L55.0,4.6 L53.4,10.8 L54.2,15.4 L58.0,21.6 L61.9,27.8 L61.1,34.0 L60.8,40.5 L63.1,47.2 L65.4,51.8 L63.8,58.0 L60.8,64.1 L56.1,68.8 L51.5,73.4 L47.6,79.6 L43.8,85.0 L39.1,88.8 L33.0,92.7 L28.3,96.6 L25.3,101.0 L24.5,104.0" stroke="#1e1010" stroke-width="2.2" fill="none" stroke-linejoin="round"/></svg><div class="b"></div></div>

<svg class="main" width="550" height="389" viewBox="0 0 550 389" font-family="Liberation Sans, Arial, sans-serif">
<!-- top chart -->
<text x="444" y="32.8" font-size="8.4" text-anchor="middle" fill="#151515" stroke="#151515" stroke-width="0.12">RBF EVI profile</text>
<g stroke="#f1f1f1" stroke-width="0.5" fill="none">
<path d="M350.3,47.4H537.9M350.3,80.8H537.9M350.3,114.3H537.9M350.3,147.8H537.9"/>
</g>
<g stroke="#ececec" stroke-width="0.8" fill="none">
<path d="M350.3,64.1H537.9M350.3,97.6H537.9M350.3,131.1H537.9M350.3,164.6H537.9"/>
<path d="M350.3,37.5V168.3M365.8,37.5V168.3M382.3,37.5V168.3M397.8,37.5V168.3M413.5,37.5V168.3M429,37.5V168.3M444.5,37.5V168.3M460,37.5V168.3M475.1,37.5V168.3M491,37.5V168.3M506.6,37.5V168.3M522.4,37.5V168.3M537.9,37.5V168.3"/>
</g>
<path d="M350.10,115.10 C352.50,115.43 353.17,115.07 357.30,116.10 C361.43,117.13 359.07,119.83 362.50,118.20 C365.93,116.57 364.87,111.00 367.60,111.20 C370.33,111.40 368.30,113.87 370.70,118.80 C373.10,123.73 372.40,120.50 374.80,126.00 C377.20,131.50 375.83,127.07 377.90,135.30 C379.97,143.53 378.93,144.87 381.00,150.70 C383.07,156.53 381.57,151.90 384.10,152.80 C386.63,153.70 385.50,154.43 388.60,153.40 C391.70,152.37 390.43,154.37 393.40,149.70 C396.37,145.03 395.10,146.97 397.50,139.40 C399.90,131.83 398.33,133.53 400.60,127.00 C402.87,120.47 402.27,121.97 404.30,119.80 C406.33,117.63 404.53,120.70 406.70,120.50 C408.87,120.30 407.37,119.20 410.80,119.20 C414.23,119.20 412.87,119.60 417.00,120.50 C421.13,121.40 418.93,121.90 423.20,121.90 C427.47,121.90 426.30,119.87 429.80,120.50 C433.30,121.13 430.93,121.60 433.70,123.80 C436.47,126.00 435.53,123.47 438.10,127.10 C440.67,130.73 439.23,128.53 441.40,134.70 C443.57,140.87 442.80,140.50 444.60,145.60 C446.40,150.70 445.33,149.27 446.80,150.00 C448.27,150.73 447.53,151.23 449.00,147.80 C450.47,144.37 449.73,143.10 451.20,139.70 C452.67,136.30 451.97,138.17 453.40,137.60 C454.83,137.03 453.70,140.40 455.50,138.00 C457.30,135.60 456.60,136.23 458.80,130.40 C461.00,124.57 459.90,125.40 462.10,120.50 C464.30,115.60 463.23,118.37 465.40,115.70 C467.57,113.03 466.07,112.50 468.60,112.50 C471.13,112.50 469.70,113.17 473.00,115.70 C476.30,118.23 474.87,119.00 478.50,120.10 C482.13,121.20 480.63,118.87 483.90,119.00 C487.17,119.13 485.77,118.53 488.30,120.50 C490.83,122.47 488.60,122.57 491.50,124.90 C494.40,127.23 494.07,125.67 497.00,127.50 C499.93,129.33 498.13,126.17 500.30,130.40 C502.47,134.63 501.33,133.67 503.50,140.20 C505.67,146.73 504.23,145.13 506.80,150.00 C509.37,154.87 507.93,153.33 511.20,154.80 C514.47,156.27 513.70,156.73 516.60,154.40 C519.50,152.07 517.33,154.73 519.90,147.80 C522.47,140.87 521.40,141.60 524.30,133.60 C527.20,125.60 525.33,128.67 528.60,123.80 C531.87,118.93 531.17,120.67 534.10,119.00 C537.03,117.33 536.30,118.87 537.40,118.80" fill="none" stroke="#333" stroke-width="1.1" stroke-linejoin="round"/>
<g fill="none" stroke-width="1.2" stroke-dasharray="3,2.55">
<path d="M431,39.9V171" stroke="#46a0c4"/>
<path d="M450.2,39.9V171" stroke="#45a466"/>
<path d="M465,39.9V171" stroke="#e4506a"/>
</g>
<g font-size="6" fill="#555" stroke="#555" stroke-width="0.12" text-anchor="end">
<text x="346.8" y="66.2">7500</text>
<text x="346.8" y="99.7">5000</text>
<text x="346.8" y="133.2">2500</text>
<text x="346.8" y="166.7">0</text>
</g>
<g font-size="6.2" fill="#3a3a3a" stroke="#3a3a3a" stroke-width="0.05" text-anchor="end">
<text transform="translate(355.2,174.5) rotate(-90)">01-01-14</text>
<text transform="translate(370.7,174.5) rotate(-90)">01-04-14</text>
<text transform="translate(387.2,174.5) rotate(-90)">01-07-14</text>
<text transform="translate(402.7,174.5) rotate(-90)">01-10-14</text>
<text transform="translate(418.4,174.5) rotate(-90)">01-01-15</text>
<text transform="translate(433.9,174.5) rotate(-90)">01-04-15</text>
<text transform="translate(449.4,174.5) rotate(-90)">01-07-15</text>
<text transform="translate(464.9,174.5) rotate(-90)">01-10-15</text>
<text transform="translate(480.0,174.5) rotate(-90)">01-01-16</text>
<text transform="translate(495.9,174.5) rotate(-90)">01-04-16</text>
<text transform="translate(511.5,174.5) rotate(-90)">01-07-16</text>
<text transform="translate(527.3,174.5) rotate(-90)">01-10-16</text>
<text transform="translate(542.8,174.5) rotate(-90)">01-01-17</text>
</g>

<!-- bottom chart -->
<text x="446" y="215.6" font-size="8.5" text-anchor="middle" fill="#151515" stroke="#151515" stroke-width="0.12">Spectral profile Apr 24, Aug 15, Nov 11</text>
<g stroke="#f1f1f1" stroke-width="0.5" fill="none">
<path d="M351.4,226.8H543.8M351.4,262.2H543.8M351.4,297.4H543.8M351.4,332.6H543.8"/>
<path d="M384.2,225.5V356.5M435.5,225.5V356.5M487.4,225.5V356.5M539.4,225.5V356.5"/>
</g>
<g stroke="#ececec" stroke-width="0.8" fill="none">
<path d="M351.4,244.4H543.8M351.4,279.8H543.8M351.4,315H543.8M351.4,350.3H543.8"/>
<path d="M358.2,225.5V356.5M409.8,225.5V356.5M461.5,225.5V356.5M513.3,225.5V356.5"/>
</g>
<g fill="none" stroke-width="1" stroke-linejoin="round">
<path d="M357.8,316.9 L364.3,313.6 L374.5,311.6 L392.4,305 L477,309.3 L534.8,319" stroke="#62a452"/>
<path d="M357.8,316.9 L364.3,316 L375.2,317.6 L392.4,280 L477,319 L534.8,332.4" stroke="#b48064"/>
<path d="M357.8,326.7 L364.3,326.5 L375,327.3 L392.4,296.5 L477.5,326.2 L534.8,335.4" stroke="#6474c6"/>
</g>
<g font-size="6" fill="#555" stroke="#555" stroke-width="0.12" text-anchor="end">
<text x="345.2" y="246.5">6000</text>
<text x="345.2" y="281.9">4000</text>
<text x="345.2" y="317.1">2000</text>
<text x="345.2" y="352.4">0</text>
</g>
<g font-size="6" fill="#555" stroke="#555" stroke-width="0.12" text-anchor="middle">
<text x="358.4" y="363.8">0.5</text>
<text x="409.8" y="363.8">1.0</text>
<text x="461.5" y="363.8">1.5</text>
<text x="513.3" y="363.8">2.0</text>
</g>
<g stroke-width="1">
<path d="M399.2,380.4H408.5" stroke="#6474c6"/>
<path d="M431.9,380.4H441.3" stroke="#62a452"/>
<path d="M465.9,380.4H475.5" stroke="#b48064"/>
</g>
<g font-size="5.9" fill="#1a1a1a" stroke="#1a1a1a" stroke-width="0.06">
<text x="410.7" y="382.6">25. Apr</text>
<text x="444.1" y="382.6">15. Aug</text>
<text x="477.9" y="382.6">11. Nov</text>
</g>
</svg>
</body></html>
